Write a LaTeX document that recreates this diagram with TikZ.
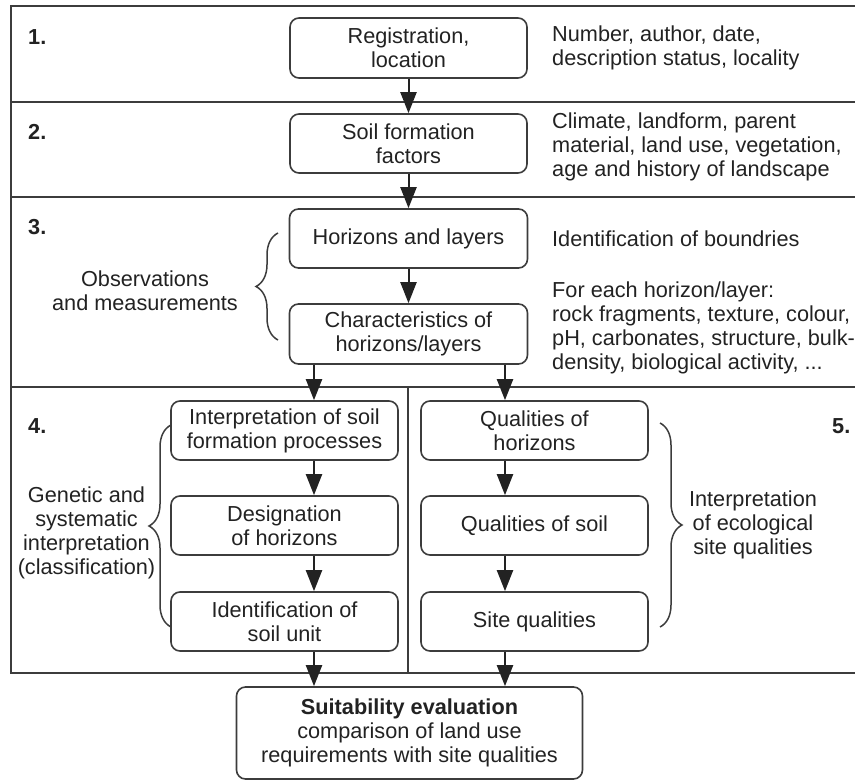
\documentclass[tikz,border=0pt]{standalone}
\usepackage{fontspec}
\setmainfont{Liberation Sans}
\usetikzlibrary{arrows.meta,decorations.pathreplacing}
\definecolor{ink}{HTML}{222222}
\definecolor{framecol}{HTML}{3C3C3C}
\begin{document}
\begin{tikzpicture}[x=1pt,y=-1pt,
  every node/.style={font=\fontsize{21.7}{24}\selectfont, text=ink},
  box/.style={draw=framecol, line width=1.6pt, rounded corners=9pt, align=center, inner sep=0pt},
  arr/.style={draw=ink, line width=2pt, -{Triangle[length=21pt,width=16pt]}},
  sect/.style={draw=framecol, line width=2.4pt},
  num/.style={font=\fontsize{21.7}{24}\selectfont\bfseries, anchor=base west, inner sep=0pt},
  note/.style={align=left, anchor=base west, inner sep=0pt},
  lab/.style={align=center, anchor=base, inner sep=0pt},
  bracedec/.style={draw=framecol, line width=1.5pt, decorate, decoration={brace, amplitude=22pt}},
]
\useasboundingbox (0,0) rectangle (855,781);

% frame
\draw[sect] (857,6) -- (11,6) -- (11,673) -- (857,673);
\draw[sect] (11,102) -- (857,102);
\draw[sect] (11,197) -- (857,197);
\draw[sect] (11,387) -- (857,387);
\draw[sect] (408,387) -- (408,673);

% section numbers
\node[num] (s1) at (28,45) {1.};
\node[num] (s2) at (28,140) {2.};
\node[num] (s3) at (28,235) {3.};
\node[num] (s4) at (28,433) {4.};
\node[num] (s5) at (832,433) {5.};

% boxes
\node[box, minimum width=237pt, minimum height=60pt] (b1) at (408.5,48) {Registration,\\location};
\node[box, minimum width=237pt, minimum height=59pt] (b2) at (408.5,143.5) {Soil formation\\factors};
\node[box, minimum width=238pt, minimum height=59pt] (b3) at (408.5,238.5) {Horizons and layers};
\node[box, minimum width=238pt, minimum height=60pt] (b4) at (408.5,334) {Characteristics of\\horizons/layers};

\node[box, minimum width=227pt, minimum height=59pt] (l1) at (284.5,430.5) {Interpretation of soil\\formation processes};
\node[box, minimum width=227pt, minimum height=59pt] (l2) at (284.5,525.5) {Designation\\of horizons};
\node[box, minimum width=227pt, minimum height=59pt] (l3) at (284.5,621.5) {Identification of\\soil unit};

\node[box, minimum width=227pt, minimum height=59pt] (r1) at (534.5,430.5) {Qualities of\\horizons};
\node[box, minimum width=227pt, minimum height=59pt] (r2) at (534.5,525.5) {Qualities of soil};
\node[box, minimum width=227pt, minimum height=59pt] (r3) at (534.5,621.5) {Site qualities};

\node[box, minimum width=346pt, minimum height=92pt] (bot) at (409.5,733) {\textbf{Suitability evaluation}\\comparison of land use\\requirements with site qualities};

% arrows
\coordinate (xl) at (314,0);
\coordinate (xr) at (505,0);
\draw[arr] (b1) -- (b2);
\draw[arr] (b2) -- (b3);
\draw[arr] (b3) -- (b4);
\draw[arr] (b4.south -| xl) -- (l1.north -| xl);
\draw[arr] (b4.south -| xr) -- (r1.north -| xr);
\draw[arr] (l1.south -| xl) -- (l2.north -| xl);
\draw[arr] (l2.south -| xl) -- (l3.north -| xl);
\draw[arr] (l3.south -| xl) -- (bot.north -| xl);
\draw[arr] (r1.south -| xr) -- (r2.north -| xr);
\draw[arr] (r2.south -| xr) -- (r3.north -| xr);
\draw[arr] (r3.south -| xr) -- (bot.north -| xr);

% right notes (anchor = baseline of last line)
\node[note] (n1) at (552,65.5) {Number, author, date,\\description status, locality};
\node[note] (n2) at (552,176.5) {Climate, landform, parent\\material, land use, vegetation,\\age and history of landscape};
\node[note] (n3) at (552,247) {Identification of boundries};
\node[note] (n4) at (552,369.5) {For each horizon/layer:\\rock fragments, texture, colour,\\pH, carbonates, structure, bulk-\\density, biological activity, ...};

% braces and labels
\draw[bracedec] (278,340) -- (278,233);
\node[lab] (obs) at (145,310.5) {Observations\\and measurements};
\draw[bracedec] (171,627) -- (171,425);
\node[lab] (gen) at (86.5,574.5) {Genetic and\\systematic\\interpretation\\(classification)};
\draw[bracedec] (660,423) -- (660,627);
\node[lab] (eco) at (753,554.5) {Interpretation\\of ecological\\site qualities};
\end{tikzpicture}
\end{document}
